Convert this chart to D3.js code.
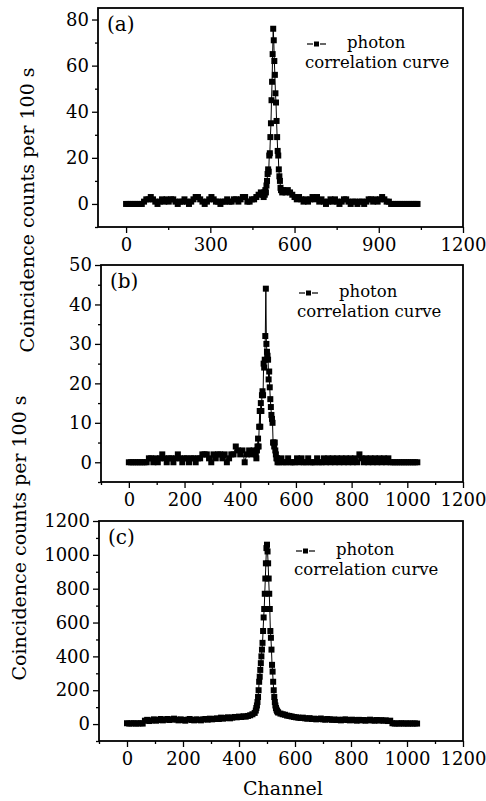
<!DOCTYPE html>
<html>
<head>
<meta charset="utf-8">
<script src="https://cdn.jsdelivr.net/npm/d3@7"></script>
<style>
  body { margin: 0; background: #fff; }
  text { font-family: "DejaVu Serif", serif; fill: #000; }
</style>
</head>
<body>
<div id="chart"></div>
<script>
// channel, counts
var seriesA = [[0,0],[8,0],[16,0],[24,0],[32,0],[40,0],[48,0],[56,0],
  [64,1],[72,2],[80,2],[88,3],[96,2],[104,1],[112,0],[120,1],[128,2],[136,1],[144,2],[152,1],[160,2],[168,2],
  [176,1],[184,0],[192,1],[200,1],[208,2],[216,1],[224,0],[232,1],[240,2],[248,3],[256,3],[264,2],[272,1],
  [280,0],[288,1],[296,2],[304,3],[312,2],[320,1],[328,1],[336,0],[344,1],[352,1],[360,2],[368,1],[376,1],
  [384,2],[392,2],[400,1],[408,2],[416,3],[424,3],[432,1],[440,1],[448,2],[456,2],[464,3],[472,4],[480,5],[488,4],
  [490,3],[492,5],[494,4],[496,6],[498,5],[500,8],[502,10],[504,13],[506,15],[508,14],[510,21],[512,22],
  [514,29],[516,35],[518,45],[520,53],[522,65],[524,76],[526,71],[528,62],[530,56],[532,48],[534,44],
  [536,36],[538,29],[540,23],[542,21],[544,15],[546,12],[548,10],[550,7],[552,6],[554,6],[556,5],
  [560,6],[568,5],[576,6],[584,5],[592,4],[600,3],[608,2],[616,3],[624,2],[632,1],[640,2],[648,1],[656,2],
  [664,3],[672,2],[680,3],[688,1],[696,2],[704,1],[712,0],[720,1],[728,2],[736,1],[744,2],[752,1],[760,0],
  [768,1],[776,2],[784,2],[792,1],[800,0],[808,1],[816,1],[824,0],[832,1],[840,1],[848,0],[856,1],[864,2],
  [872,2],[880,1],[888,2],[896,1],[904,2],[912,3],[920,2],[928,1],[936,1],[944,0],[952,0],[960,0],[968,0],
  [976,0],[984,0],[992,0],[1000,0],[1008,0],[1016,0],[1024,0],[1032,0],[1038,0]];

var seriesB = [[0,0],[8,0],[16,0],[24,0],[32,0],[40,0],[48,0],[56,0],[64,0],
  [72,1],[80,1],[88,0],[96,1],[104,0],[112,1],[120,2],[128,1],[136,0],[144,1],[152,1],[160,0],[168,1],
  [176,2],[184,1],[192,0],[200,1],[208,1],[216,0],[224,1],[232,1],[240,0],[248,1],[256,1],[264,2],[272,2],
  [280,2],[288,1],[296,0],[304,2],[312,1],[320,2],[328,2],[336,1],[344,2],[352,0],[360,1],[368,2],[376,2],
  [384,4],[392,3],[400,2],[408,3],[416,0],[424,2],[432,3],[440,2],[448,3],[456,2],
  [458,1],[460,3],[462,4],[464,6],[466,4],[468,9],[470,13],[472,9],[474,15],[476,13],[478,17],[480,18],
  [482,17],[484,25],[486,24],[488,26],[490,32],[492,44],[494,30],[496,28],[498,27],[500,26],[502,21],
  [504,23],[506,19],[508,16],[510,14],[512,12],[514,11],[516,10],[518,5],[520,5],[522,4],[524,5],[526,3],
  [528,2],[530,1],[532,1],[534,0],
  [540,0],[548,1],[556,0],[564,0],[572,1],[580,0],[588,0],[596,0],[604,1],[612,0],[620,1],[628,0],[636,0],
  [644,1],[652,0],[660,0],[668,0],[676,1],[684,0],[692,0],[700,1],[708,0],[716,1],[724,0],[732,1],[740,0],
  [748,1],[756,0],[764,1],[772,0],[780,1],[788,0],[796,1],[804,0],[812,1],[820,0],[828,2],[836,1],[844,0],
  [852,1],[860,0],[868,1],[876,0],[884,1],[892,0],[900,1],[908,0],[916,1],[924,0],[932,1],[940,0],[948,0],
  [956,0],[964,0],[972,0],[980,0],[988,0],[996,0],[1004,0],[1012,0],[1020,0],[1028,0],[1036,0]];

var seriesC = [[0,5],[8,3],[16,4],[24,5],[32,3],[40,4],[48,5],[56,3],
  [64,20],[72,25],[80,18],[88,22],[96,28],[104,20],[112,24],[120,30],[128,22],[136,26],[144,30],[152,24],
  [160,28],[168,32],[176,26],[184,22],[192,28],[200,24],[208,20],[216,26],[224,30],[232,24],[240,22],
  [248,28],[256,25],[264,22],[272,28],[280,30],[288,26],[296,32],[304,28],[312,30],[320,34],[328,30],
  [336,38],[344,32],[352,36],[360,40],[368,34],[376,38],[384,42],[392,40],[400,44],[408,42],[416,46],
  [424,44],[432,48],[440,52],[448,58],[456,66],
  [460,80],[462,95],[464,110],[466,130],[468,160],[470,200],[472,250],[474,280],[476,320],[478,360],
  [480,400],[482,440],[484,480],[486,550],[488,630],[490,680],[492,770],[494,860],[496,950],[498,1040],
  [500,1060],[502,1020],[504,950],[506,860],[508,770],[510,680],[512,550],[514,510],[516,440],[518,350],
  [520,310],[522,250],[524,200],[526,160],[528,130],[530,110],[532,95],[534,85],[536,78],[538,72],[540,68],
  [548,62],[556,58],[564,55],[572,50],[580,48],[588,45],[596,42],[604,40],[612,38],[620,36],[628,38],
  [636,34],[644,32],[652,35],[660,30],[668,32],[676,28],[684,30],[692,33],[700,28],[708,26],[716,30],
  [724,28],[732,25],[740,27],[748,24],[756,26],[764,22],[772,25],[780,28],[788,24],[796,22],[804,26],
  [812,24],[820,20],[828,25],[836,22],[844,24],[852,20],[860,23],[868,26],[876,22],[884,20],[892,24],
  [900,21],[908,23],[916,20],[924,22],[932,18],[940,20],[948,5],[956,3],[964,4],[972,3],[980,5],[988,3],
  [996,4],[1004,3],[1012,4],[1020,3],[1028,4],[1036,3]];

var xMajorA = [0,300,600,900,1200], xMinorA = [150,450,750,1050];
var xMajorBC = [0,200,400,600,800,1000,1200], xMinorBC = [-100,100,300,500,700,900,1100];
var yMajorA = [0,20,40,60,80], yMinorA = [-10,10,30,50,70];
var yMajorB = [0,10,20,30,40,50], yMinorB = [-5,5,15,25,35,45];
var yMajorC = [0,200,400,600,800,1000,1200], yMinorC = [-100,100,300,500,700,900,1100];

var panelLabels = ['(a)','(b)','(c)'];
var legendText = ['photon','correlation curve'];
var yTitle = 'Coincidence counts per 100 s';
var xTitle = 'Channel';

var width = 486, height = 801;
var markSize = 6;

var svg = d3.select('#chart').append('svg')
  .attr('width', width)
  .attr('height', height);

function drawPanel(p) {
  var x = d3.scaleLinear().domain(p.xDomain).range([p.left, p.right]);
  var y = d3.scaleLinear().domain(p.yDomain).range([p.bottom, p.top]);
  var g = svg.append('g');

  // minor ticks
  g.append('g')
    .attr('transform', 'translate(0,' + p.bottom + ')')
    .call(d3.axisBottom(x).tickValues(p.xMinor).tickSize(3).tickFormat(''))
    .call(function(a){ a.select('.domain').remove(); });
  g.append('g')
    .attr('transform', 'translate(' + p.left + ',0)')
    .call(d3.axisLeft(y).tickValues(p.yMinor).tickSize(3).tickFormat(''))
    .call(function(a){ a.select('.domain').remove(); });

  // major ticks
  var xa = g.append('g')
    .attr('transform', 'translate(0,' + p.bottom + ')')
    .call(d3.axisBottom(x).tickValues(p.xMajor).tickSize(6).tickPadding(5).tickFormat(d3.format('d')));
  xa.select('.domain').remove();
  var ya = g.append('g')
    .attr('transform', 'translate(' + p.left + ',0)')
    .call(d3.axisLeft(y).tickValues(p.yMajor).tickSize(6).tickPadding(3).tickFormat(d3.format('d')));
  ya.select('.domain').remove();
  g.selectAll('.tick line').attr('stroke', '#000').attr('stroke-width', 1.3);
  g.selectAll('.tick text')
    .style('font-family', '"DejaVu Serif", serif')
    .style('font-size', '18px')
    .attr('fill', '#000');

  // frame
  g.append('rect')
    .attr('x', p.left).attr('y', p.top)
    .attr('width', p.right - p.left).attr('height', p.bottom - p.top)
    .attr('fill', 'none').attr('stroke', '#000').attr('stroke-width', 1.8);

  // curve
  var line = d3.line().x(function(d){ return x(d[0]); }).y(function(d){ return y(d[1]); });
  g.append('path').datum(p.data)
    .attr('d', line).attr('fill', 'none').attr('stroke', '#000').attr('stroke-width', 1);
  g.selectAll('rect.pt').data(p.data).enter().append('rect')
    .attr('class', 'pt')
    .attr('x', function(d){ return x(d[0]) - markSize / 2; })
    .attr('y', function(d){ return y(d[1]) - markSize / 2; })
    .attr('width', markSize).attr('height', markSize)
    .attr('fill', '#000');

  // panel label
  g.append('text')
    .attr('x', p.left + 9).attr('y', p.top + 23)
    .style('font-size', '20px')
    .text(p.label);

  // legend
  var lx = p.legX, ly = p.legY;
  g.append('line').attr('x1', lx).attr('x2', lx + 6).attr('y1', ly).attr('y2', ly)
    .attr('stroke', '#000').attr('stroke-width', 1.2);
  g.append('line').attr('x1', lx + 13).attr('x2', lx + 19).attr('y1', ly).attr('y2', ly)
    .attr('stroke', '#000').attr('stroke-width', 1.2);
  g.append('rect').attr('x', lx + 7).attr('y', ly - 2.5).attr('width', 5).attr('height', 5).attr('fill', '#000');
  g.append('text').attr('x', lx + 40).attr('y', ly + 4)
    .style('font-size', '16.5px').text(legendText[0]);
  g.append('text').attr('x', lx - 2).attr('y', ly + 24)
    .style('font-size', '16.5px').text(legendText[1]);
}

drawPanel({left: 98, right: 463, top: 8, bottom: 227,
  xDomain: [-100, 1200], yDomain: [-10, 85],
  xMajor: xMajorA, xMinor: xMinorA, yMajor: yMajorA, yMinor: yMinorA,
  data: seriesA, label: panelLabels[0], legX: 307, legY: 44});

drawPanel({left: 101, right: 463, top: 265, bottom: 482,
  xDomain: [-100, 1200], yDomain: [-5, 50],
  xMajor: xMajorBC, xMinor: xMinorBC, yMajor: yMajorB, yMinor: yMinorB,
  data: seriesB, label: panelLabels[1], legX: 299, legY: 293});

drawPanel({left: 99, right: 463, top: 521, bottom: 741,
  xDomain: [-100, 1200], yDomain: [-100, 1200],
  xMajor: xMajorBC, xMinor: xMinorBC, yMajor: yMajorC, yMinor: yMinorC,
  data: seriesC, label: panelLabels[2], legX: 296, legY: 551});

// axis titles
svg.append('text')
  .attr('transform', 'translate(34,210) rotate(-90)')
  .attr('text-anchor', 'middle')
  .style('font-size', '19px')
  .text(yTitle);
svg.append('text')
  .attr('transform', 'translate(26,538) rotate(-90)')
  .attr('text-anchor', 'middle')
  .style('font-size', '19px')
  .text(yTitle);
svg.append('text')
  .attr('x', 283).attr('y', 795)
  .attr('text-anchor', 'middle')
  .style('font-size', '19px')
  .text(xTitle);
</script>
</body>
</html>
